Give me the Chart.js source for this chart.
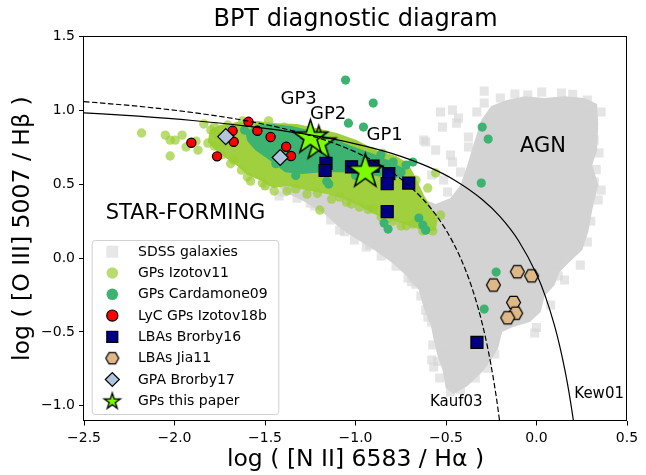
<!DOCTYPE html>
<html><head><meta charset="utf-8">
<script src="https://cdn.jsdelivr.net/npm/chart.js"></script>
<style>html,body{margin:0;padding:0;background:#fff}canvas{display:block}</style>
</head><body>
<canvas id="c" width="646" height="475"></canvas>
<script>
// ---------------- data ----------------
const xTicks = [-2.5, -2.0, -1.5, -1.0, -0.5, 0.0, 0.5];
const yTicks = [-1.0, -0.5, 0.0, 0.5, 1.0, 1.5];

const seriesNames = ['SDSS galaxies','GPs Izotov11','GPs Cardamone09','LyC GPs Izotov18b',
                     'LBAs Brorby16','LBAs Jia11','GPA Brorby17','GPs this paper'];

// SDSS galaxies: dense body outline + scattered outliers
const sdssOutline = [[-1.455,0.516],[-1.323,0.543],[-1.159,0.543],[-0.995,0.516],[-0.831,0.475],[-0.710,0.448],[-0.639,0.407],[-0.557,0.367],[-0.475,0.407],[-0.420,0.495],[-0.382,0.631],[-0.349,0.766],[-0.305,0.936],[-0.250,1.031],[-0.163,1.071],[-0.064,1.098],[0.045,1.085],[0.155,1.098],[0.264,1.085],[0.335,1.044],[0.341,0.902],[0.335,0.732],[0.308,0.631],[0.341,0.495],[0.308,0.326],[0.286,0.177],[0.253,0.055],[0.182,-0.026],[0.127,-0.094],[0.100,-0.182],[0.045,-0.257],[0.023,-0.365],[-0.037,-0.433],[-0.130,-0.467],[-0.190,-0.501],[-0.212,-0.609],[-0.250,-0.690],[-0.300,-0.772],[-0.382,-0.867],[-0.458,-0.921],[-0.502,-0.880],[-0.519,-0.758],[-0.546,-0.663],[-0.568,-0.555],[-0.584,-0.453],[-0.623,-0.338],[-0.650,-0.216],[-0.721,-0.115],[-0.803,-0.026],[-0.896,0.055],[-0.967,0.109],[-1.039,0.163],[-1.104,0.224],[-1.170,0.299],[-1.279,0.380],[-1.389,0.448]];
const sdssPoints = [[-1.400,0.448],[-1.323,0.407],[-1.225,0.353],[-1.137,0.258],[-1.088,0.190],[-1.006,0.123],[-0.940,0.075],[-0.858,0.014],[-0.776,-0.054],[-0.710,-0.135],[-0.666,-0.176],[-0.639,-0.257],[-0.612,-0.352],[-0.579,-0.433],[-0.573,-0.589],[-0.579,-0.690],[-0.568,-0.738],[-0.535,-0.812],[-0.475,-0.907],[-0.338,-0.812],[-0.272,-0.745],[-0.010,-0.507],[0.078,-0.318],[0.155,-0.148],[0.319,0.800],[0.346,0.712],[0.281,0.610],[0.319,0.516],[0.357,0.461],[0.341,0.394],[0.281,0.109],[0.242,-0.047],[0.357,0.990],[-0.289,1.132],[-0.289,1.051],[-0.048,1.105],[0.029,1.125],[0.138,1.119],[0.281,1.071],[-0.119,1.112],[-0.464,1.003],[-0.431,0.949],[-0.519,0.888],[-0.623,0.800],[-0.464,0.651],[-0.491,0.448],[-0.530,0.990],[-0.442,0.915],[-0.612,0.787],[-0.376,0.821],[-0.376,0.753],[-0.557,0.732],[-0.475,0.699],[-0.420,0.583],[-0.513,0.529],[-0.579,0.563],[-1.487,0.495],[-1.422,0.421],[-1.250,0.372],[-1.060,0.180],[-0.920,0.090],[-0.690,-0.160],[-0.600,-0.400],[-0.545,-0.700],[-0.420,-0.890],[-0.230,-0.650],[0.000,-0.470],[0.120,-0.120],[0.300,0.250],[0.330,0.600],[0.200,1.110],[-0.200,1.085],[-0.330,0.990],[-0.470,-0.850],[-0.400,-0.800],[-0.520,-0.620]];

// GPs Izotov11: dense band outline + individual galaxies
const izotovOutline = [[-1.816,0.787],[-1.805,0.868],[-1.750,0.902],[-1.652,0.922],[-1.542,0.929],[-1.433,0.915],[-1.323,0.909],[-1.214,0.881],[-1.104,0.848],[-0.995,0.800],[-0.885,0.732],[-0.776,0.692],[-0.710,0.644],[-0.666,0.543],[-0.623,0.428],[-0.579,0.339],[-0.546,0.258],[-0.557,0.190],[-0.612,0.177],[-0.694,0.218],[-0.787,0.251],[-0.885,0.292],[-0.978,0.353],[-1.077,0.407],[-1.159,0.434],[-1.268,0.461],[-1.378,0.489],[-1.455,0.475],[-1.531,0.529],[-1.597,0.563],[-1.652,0.624],[-1.717,0.678],[-1.772,0.732]];
const izotovPoints = [[-2.182,0.848],[-2.051,0.834],[-2.024,0.800],[-1.996,0.800],[-1.958,0.834],[-1.936,0.753],[-1.881,0.793],[-2.024,0.692],[-1.838,0.909],[-1.816,0.780],[-1.799,0.868],[-1.761,0.834],[-1.597,0.550],[-1.580,0.522],[-1.515,0.509],[-1.449,0.455],[-1.197,0.326],[-1.088,0.414],[-0.978,0.346],[-0.902,0.333],[-0.792,0.251],[-0.683,0.231],[-0.628,0.184],[-0.573,0.184],[-0.557,0.577],[-0.666,0.529],[-0.907,0.719],[-0.852,0.712],[-0.995,0.760],[-1.394,0.888],[-1.706,0.902],[-1.624,0.929],[-1.728,0.780],[-1.870,0.732],[-1.378,0.455],[-1.268,0.434],[-1.132,0.400],[-1.022,0.367],[-0.858,0.279],[-0.748,0.218],[-0.530,0.292],[-0.601,0.475],[-1.673,0.665],[-1.630,0.597],[-1.780,0.890],[-1.480,0.930],[-1.500,0.490],[-1.330,0.470],[-1.210,0.440],[-1.050,0.380],[-0.930,0.330],[-0.820,0.270],[-0.720,0.220],[-1.740,0.700],[-1.690,0.640],[-1.780,0.760]];

// GPs Cardamone09: dense patch outline + individual galaxies
const cardamoneOutline = [[-1.608,0.848],[-1.553,0.902],[-1.460,0.909],[-1.351,0.895],[-1.241,0.861],[-1.132,0.814],[-1.022,0.760],[-0.913,0.712],[-0.820,0.665],[-0.748,0.617],[-0.732,0.550],[-0.803,0.543],[-0.885,0.556],[-0.984,0.577],[-1.077,0.583],[-1.186,0.583],[-1.296,0.570],[-1.389,0.583],[-1.476,0.665],[-1.553,0.732],[-1.597,0.793]];
const cardamonePoints = [[-1.055,1.207],[-0.902,1.051],[-1.039,0.915],[-0.956,0.888],[-0.792,0.651],[-0.683,0.651],[-0.300,0.888],[-0.267,0.807],[-0.305,0.509],[-0.223,-0.094],[-0.289,-0.345],[-0.628,0.224],[-0.650,0.272],[-0.612,0.190],[-0.842,0.238],[-0.820,0.197],[-1.159,0.522],[-1.148,0.502],[-0.748,0.583],[-0.721,0.631],[-1.613,0.868],[-1.531,0.875],[-1.440,0.640],[-1.330,0.560],[-1.000,0.560],[-0.860,0.700]];

const lycIzotov18b = [[-1.907,0.782],[-1.765,0.690],[-1.679,0.863],[-1.673,0.789],[-1.591,0.924],[-1.542,0.863],[-1.469,0.821],[-1.383,0.755],[-1.356,0.692]];
const lbaBrorby16 = [[-1.163,0.642],[-1.168,0.594],[-1.022,0.619],[-0.903,0.624],[-0.816,0.573],[-0.825,0.505],[-0.706,0.509],[-0.825,0.316],[-0.329,-0.571]];
const lbaJia11 = [[-0.106,-0.092],[-0.027,-0.120],[-0.238,-0.182],[-0.127,-0.300],[-0.115,-0.373],[-0.159,-0.404]];
const gpaBrorby17 = [[-1.717,0.824],[-1.416,0.682]];
const gpNames = ['GP1','GP2','GP3'];
const gpThisPaper = [[-0.946,0.597],[-1.203,0.787],[-1.249,0.827]];

// demarcation curves, tabulated
const kew01 = [[-2.5,0.985],[-2.2,0.962],[-1.9,0.933],[-1.6,0.895],[-1.3,0.845],[-1.0,0.775],[-0.8,0.710],[-0.6,0.620],[-0.45,0.527],[-0.3,0.398],[-0.2,0.280],[-0.1,0.120],[0.0,-0.108],[0.05,-0.262],[0.1,-0.459],[0.13,-0.604],[0.16,-0.778],[0.18,-0.913],[0.2,-1.069],[0.204,-1.103]];
const kauf03 = [[-2.5,1.061],[-2.2,1.029],[-1.9,0.987],[-1.6,0.930],[-1.3,0.848],[-1.1,0.770],[-0.9,0.658],[-0.75,0.538],[-0.6,0.362],[-0.5,0.191],[-0.42,0.002],[-0.36,-0.188],[-0.31,-0.394],[-0.27,-0.606],[-0.24,-0.803],[-0.22,-0.959],[-0.204,-1.102]];

// text annotations (data coordinates)
const annotations = [
  {text:'AGN', x:0.036, y:0.755, size:21},
  {text:'STAR-FORMING', x:-1.939, y:0.302, size:21},
  {text:'Kauf03', x:-0.443, y:-0.973, size:15},
  {text:'Kew01', x:0.346, y:-0.921, size:15},
  {text:gpNames[0], x:-0.839, y:0.834, size:18},
  {text:gpNames[1], x:-1.151, y:0.976, size:18},
  {text:gpNames[2], x:-1.314, y:1.078, size:18}
];

// ---------------- styles ----------------
const FONT = "'DejaVu Sans', sans-serif";
const C = {
  sdss: 'rgb(211,211,211)', sdssPt: 'rgba(211,211,211,0.6)',
  izo: 'rgb(160,208,62)', izoPt: 'rgba(154,205,50,0.7)',
  card: 'rgb(60,179,113)', lyc: '#ff0000', navy: '#000080',
  jia: '#deb887', gpa: '#b0c4de', star: '#7cfc00'
};

function starCanvas(R, lw) {
  const pad = lw + 1, size = Math.ceil(2 * R + 2 * pad);
  const c = document.createElement('canvas'); c.width = size; c.height = size;
  const g = c.getContext('2d'); const cx = size / 2, cy = size / 2 + R * 0.08, r = R * 0.381966;
  g.beginPath();
  for (let i = 0; i < 10; i++) {
    const rad = i % 2 ? r : R, a = -Math.PI / 2 + i * Math.PI / 5;
    const px = cx + rad * Math.cos(a), py = cy + rad * Math.sin(a);
    i ? g.lineTo(px, py) : g.moveTo(px, py);
  }
  g.closePath(); g.fillStyle = C.star; g.fill();
  g.lineWidth = lw; g.lineJoin = 'miter'; g.strokeStyle = '#000'; g.stroke();
  return c;
}
function hexCanvas(R, lw) {
  const pad = lw + 1, size = Math.ceil(2 * R + 2 * pad);
  const c = document.createElement('canvas'); c.width = size; c.height = size;
  const g = c.getContext('2d'); const cx = size / 2, cy = size / 2;
  g.beginPath();
  for (let i = 0; i < 6; i++) {
    const a = i * Math.PI / 3, px = cx + R * Math.cos(a), py = cy + R * Math.sin(a);
    i ? g.lineTo(px, py) : g.moveTo(px, py);
  }
  g.closePath(); g.fillStyle = C.jia; g.fill();
  g.lineWidth = lw; g.strokeStyle = '#000'; g.stroke();
  return c;
}
const bigStar = starCanvas(18, 1.5), smallStar = starCanvas(8.5, 1.3);
const hexImg = hexCanvas(7, 1.2), hexSmall = hexCanvas(6.5, 1.2);

const xy = a => a.map(p => ({x: p[0], y: p[1]}));
const closed = a => xy(a.concat([a[0]]));

const polygon = (data, color, order) => ({
  type: 'line', data: closed(data), showLine: true, fill: 'shape',
  backgroundColor: color, borderColor: color, borderWidth: 0, pointRadius: 0,
  tension: 0, order
});
const pts = (label, data, o) => Object.assign({type: 'scatter', label, data: xy(data)}, o);

const datasets = [
  {type:'line', label:'Kew01', data: xy(kew01), borderColor:'#000', borderWidth:1.2, pointRadius:0,
   fill:false, cubicInterpolationMode:'monotone', order:0},
  {type:'line', label:'Kauf03', data: xy(kauf03), borderColor:'#000', borderWidth:1.2, borderDash:[5.5,2.5],
   pointRadius:0, fill:false, cubicInterpolationMode:'monotone', order:0},
  pts(seriesNames[7], gpThisPaper, {pointStyle: bigStar, pointRadius: 18, order: 1}),
  pts(seriesNames[6], gpaBrorby17, {pointStyle:'rectRot', pointRadius:8, backgroundColor:C.gpa, borderColor:'#000', borderWidth:1.2, order:2}),
  pts(seriesNames[5], lbaJia11, {pointStyle: hexImg, pointRadius: 7, order: 3}),
  pts(seriesNames[4], lbaBrorby16, {pointStyle:'rect', pointRadius:8.5, backgroundColor:C.navy, borderColor:'#000', borderWidth:1.2, order:4}),
  pts(seriesNames[3], lycIzotov18b, {pointStyle:'circle', pointRadius:4.6, backgroundColor:C.lyc, borderColor:'#000', borderWidth:1.2, order:5}),
  pts(seriesNames[2], cardamonePoints, {pointStyle:'circle', pointRadius:4.6, backgroundColor:C.card, borderWidth:0, order:6}),
  polygon(cardamoneOutline, C.card, 7),
  pts(seriesNames[1], izotovPoints, {pointStyle:'circle', pointRadius:4.7, backgroundColor:C.izoPt, borderWidth:0, order:8}),
  polygon(izotovOutline, C.izo, 9),
  pts(seriesNames[0], sdssPoints, {pointStyle:'rect', pointRadius:6.4, backgroundColor:C.sdssPt, borderWidth:0, order:10}),
  polygon(sdssOutline, C.sdss, 11)
];

// legend entries drawn inside the axes
const legendMarkers = [
  (g,x,y)=>{ g.fillStyle='rgba(211,211,211,0.55)'; g.fillRect(x-6,y-6,12,12); },
  (g,x,y)=>{ g.fillStyle=C.izoPt; g.beginPath(); g.arc(x,y,5.8,0,2*Math.PI); g.fill(); },
  (g,x,y)=>{ g.fillStyle=C.card; g.beginPath(); g.arc(x,y,5.8,0,2*Math.PI); g.fill(); },
  (g,x,y)=>{ g.fillStyle=C.lyc; g.strokeStyle='#000'; g.lineWidth=1.2; g.beginPath(); g.arc(x,y,5.6,0,2*Math.PI); g.fill(); g.stroke(); },
  (g,x,y)=>{ g.fillStyle=C.navy; g.strokeStyle='#000'; g.lineWidth=1.2; g.fillRect(x-5.5,y-5.5,11,11); g.strokeRect(x-5.5,y-5.5,11,11); },
  (g,x,y)=>{ g.drawImage(hexSmall, x-hexSmall.width/2, y-hexSmall.height/2); },
  (g,x,y)=>{ g.fillStyle=C.gpa; g.strokeStyle='#000'; g.lineWidth=1.2; g.beginPath(); g.moveTo(x-7,y); g.lineTo(x,y-7); g.lineTo(x+7,y); g.lineTo(x,y+7); g.closePath(); g.fill(); g.stroke(); },
  (g,x,y)=>{ g.drawImage(smallStar, x-smallStar.width/2, y-smallStar.height/2); }
];

const overlay = {
  id: 'overlay',
  afterDatasetsDraw(chart) {
    const {ctx, chartArea: ca, scales: {x, y}} = chart;
    ctx.save();
    ctx.fillStyle = '#000'; ctx.textAlign = 'center'; ctx.textBaseline = 'middle';
    for (const a of annotations) {
      ctx.font = a.size + 'px ' + FONT;
      ctx.fillText(a.text, x.getPixelForValue(a.x), y.getPixelForValue(a.y));
    }
    // legend box
    const bx = ca.left + 7.7, bw = 186.6, bh = 174, by = ca.bottom - 6.5 - bh;
    ctx.beginPath();
    if (ctx.roundRect) ctx.roundRect(bx + 0.5, by + 0.5, bw, bh, 3); else ctx.rect(bx + 0.5, by + 0.5, bw, bh);
    ctx.fillStyle = 'rgba(255,255,255,0.8)'; ctx.fill();
    ctx.strokeStyle = '#d0d0d0'; ctx.lineWidth = 1; ctx.stroke();
    ctx.font = '14px ' + FONT; ctx.textAlign = 'left'; ctx.textBaseline = 'middle';
    seriesNames.forEach((name, i) => {
      const ry = by + 11.7 + i * 21.3;
      legendMarkers[i](ctx, bx + 20.6, ry);
      ctx.fillStyle = '#000';
      ctx.fillText(name, bx + 46.3, ry + 0.5);
    });
    // axes frame
    const L = Math.round(ca.left) - 0.5, T = Math.round(ca.top) - 0.5,
          R = Math.round(ca.right) - 0.5, B = Math.round(ca.bottom) - 0.5;
    ctx.strokeStyle = '#000'; ctx.lineWidth = 1; ctx.strokeRect(L, T, R - L, B - T);
    ctx.restore();
  }
};

const fmt = v => (Math.round(v * 10) / 10).toFixed(1).replace('-', '\u2212');

new Chart(document.getElementById('c'), {
  type: 'scatter',
  data: {datasets},
  options: {
    responsive: false, animation: false, devicePixelRatio: 1,
    layout: {padding: {left: 0, right: 7, top: 0, bottom: 0}},
    plugins: {
      legend: {display: false}, tooltip: {enabled: false},
      title: {display: true, text: 'BPT diagnostic diagram', fullSize: false, color: '#000',
              font: {family: FONT, size: 24, weight: 'normal'}, padding: {top: 5, bottom: 3}}
    },
    scales: {
      x: {
        type: 'linear', min: -2.5, max: 0.5,
        afterBuildTicks: s => { s.ticks = xTicks.map(v => ({value: v})); },
        afterFit: s => { s.height = 54.5; s.paddingLeft = 0; s.paddingRight = 0; },
        grid: {drawOnChartArea: false, drawTicks: true, tickLength: 5, tickColor: '#000'},
        border: {display: false},
        ticks: {callback: fmt, color: '#000', font: {family: FONT, size: 14}, padding: 4, maxRotation: 0, autoSkip: false},
        title: {display: true, text: 'log ( [N II] 6583 / H\u03B1 )', color: '#000',
                font: {family: FONT, size: 23.5}, padding: {top: 1, bottom: 1}}
      },
      y: {
        type: 'linear', min: -1.1, max: 1.5,
        afterBuildTicks: s => { s.ticks = yTicks.map(v => ({value: v})); },
        afterFit: s => { s.width = 84; s.paddingTop = 0; s.paddingBottom = 0; },
        grid: {drawOnChartArea: false, drawTicks: true, tickLength: 5, tickColor: '#000'},
        border: {display: false},
        ticks: {callback: fmt, color: '#000', font: {family: FONT, size: 14}, padding: 4, autoSkip: false},
        title: {display: true, text: 'log ( [O III] 5007 / H\u03B2 )', color: '#000',
                font: {family: FONT, size: 23.5}, padding: {top: 9, bottom: 0}}
      }
    }
  },
  plugins: [overlay]
});
</script>
</body></html>
